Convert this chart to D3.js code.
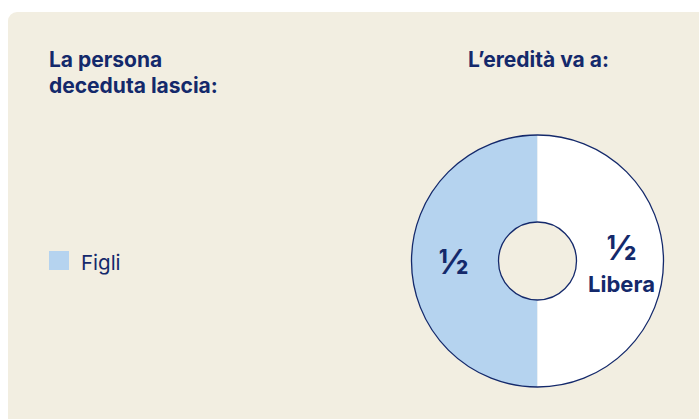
<!DOCTYPE html>
<html lang="it">
<head>
  <meta charset="UTF-8">
  <title>Eredità</title>
  <style>
    body { margin: 0; background: #ffffff; overflow: hidden; }
    svg { font-family: 'Inter', 'Noto Sans', sans-serif; }
  </style>
</head>
<body>
  <svg width="699" height="419"></svg>

  <script src="https://d3js.org/d3.v7.min.js"></script>
  <script>
    // dati
    var categories = ['Figli', 'Libera'];
    var values = [1, 1];
    var fractions = ['½', '½'];
    var subLabels = ['', 'Libera'];
    var legendItems = ['Figli'];

    var navy = '#14296b';
    var colors = { 'Figli': '#b5d3ef', 'Libera': '#ffffff' };

    var svg = d3.select('svg');

    // pannello di sfondo
    svg.append('rect')
      .attr('x', 8).attr('y', 12)
      .attr('width', 720).attr('height', 440)
      .attr('rx', 9)
      .attr('fill', '#f2eee1');

    // titoli
    var left = svg.append('text')
      .attr('x', 49).attr('y', 67)
      .attr('fill', navy)
      .style('font-size', '21px')
      .style('font-weight', 700);
    left.append('tspan').attr('x', 49).attr('dy', 0).text('La persona');
    left.append('tspan').attr('x', 49).attr('dy', 26).text('deceduta lascia:');

    svg.append('text')
      .attr('x', 538.5).attr('y', 67)
      .attr('text-anchor', 'middle')
      .attr('fill', navy)
      .style('font-size', '21px')
      .style('font-weight', 700)
      .text('L’eredità va a:');

    // legenda
    var legend = svg.selectAll('g.legend')
      .data(legendItems)
      .enter().append('g')
      .attr('class', 'legend')
      .attr('transform', function(d, i) { return 'translate(49,' + (251 + i * 30) + ')'; });
    legend.append('rect')
      .attr('width', 20).attr('height', 19)
      .attr('fill', function(d) { return colors[d]; });
    legend.append('text')
      .attr('x', 32).attr('y', 19)
      .attr('fill', navy)
      .style('font-size', '20.5px')
      .text(function(d) { return d; });

    // ciambella
    var cx = 537.5, cy = 261, outerR = 126, innerR = 39;
    var g = svg.append('g').attr('transform', 'translate(' + cx + ',' + cy + ')');

    var pie = d3.pie().sort(null).startAngle(Math.PI).endAngle(3 * Math.PI);
    var arcs = pie(values);
    var arc = d3.arc().innerRadius(innerR).outerRadius(outerR);

    g.selectAll('path.slice')
      .data(arcs)
      .enter().append('path')
      .attr('class', 'slice')
      .attr('d', arc)
      .attr('fill', function(d, i) { return colors[categories[i]]; });

    g.append('circle').attr('r', outerR).attr('fill', 'none').attr('stroke', navy).attr('stroke-width', 1.3);
    g.append('circle').attr('r', innerR).attr('fill', 'none').attr('stroke', navy).attr('stroke-width', 1.3);

    var labelArc = d3.arc().innerRadius(84).outerRadius(84);
    arcs.forEach(function(d, i) {
      var p = labelArc.centroid(d);
      var hasSub = subLabels[i] !== '';
      g.append('text')
        .attr('x', p[0])
        .attr('y', p[1] + (hasSub ? -1 : 13))
        .attr('text-anchor', 'middle')
        .attr('fill', navy)
        .style('font-size', '34px')
        .style('font-weight', 700)
        .text(fractions[i]);
      if (hasSub) {
        g.append('text')
          .attr('x', p[0])
          .attr('y', p[1] + 31)
          .attr('text-anchor', 'middle')
          .attr('fill', navy)
          .style('font-size', '22px')
          .style('font-weight', 700)
          .text(subLabels[i]);
      }
    });
  </script>
</body>
</html>
